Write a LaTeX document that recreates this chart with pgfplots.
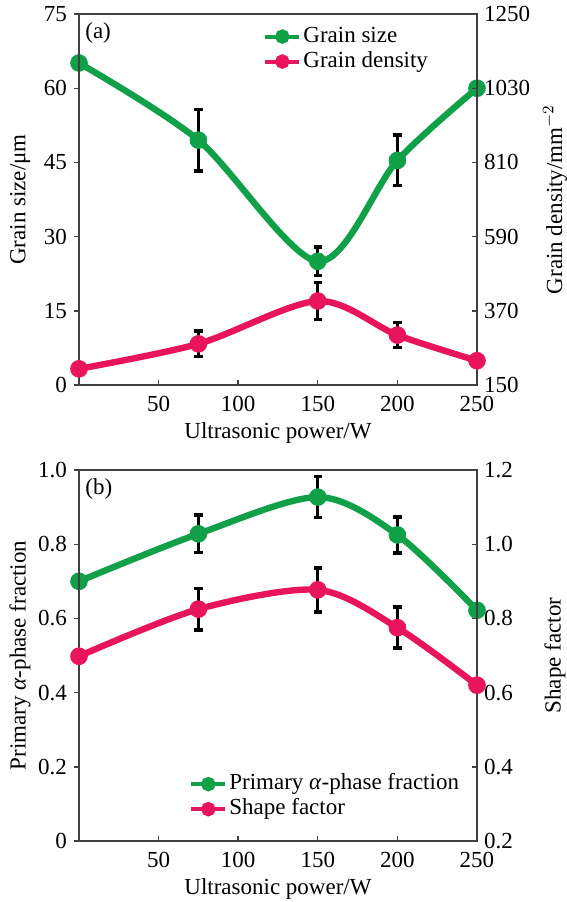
\documentclass[border=0pt]{standalone}
\usepackage{pgfplots}
\pgfplotsset{compat=1.18}
\usepackage{fontspec}
\setmainfont{Liberation Serif}
\definecolor{cgreen}{RGB}{16,160,72}
\definecolor{cpink}{RGB}{232,20,92}
\newcommand{\fs}{\fontsize{11.5}{13}\selectfont}
\pgfplotsset{
  base/.style={scale only axis, width=199pt, height=185.5pt, xmin=0, xmax=250, clip=false,
    axis line style={black!75, line width=0.7pt}, tick style={black!75, line width=0.7pt},
    major tick length=2.5pt,
    tick label style={font=\fs}, label style={font=\fs},
    xticklabel style={yshift=-2pt},
    /pgf/number format/assume math mode=true, /pgf/number format/1000 sep={}},
  errs/.style={error bars/.cd, y dir=both, y explicit,
    error bar style={line width=1.6pt, black, solid},
    error mark options={rotate=90, black, mark size=2.1pt, line width=1.8pt}},
  gline/.style={color=cgreen, line width=3.2pt, smooth, mark=*, mark size=4.2pt,
    mark options={solid, line width=0.4pt, fill=cgreen}, forget plot},
  pline/.style={color=cpink, line width=3.2pt, smooth, mark=*, mark size=4.2pt,
    mark options={solid, line width=0.4pt, fill=cpink}, forget plot},
  leg/.style={legend style={draw=none, fill=none, font=\fs, at={#1}, anchor=north west,
    inner sep=0pt, row sep=0pt, nodes={inner sep=1pt, text height=8pt, text depth=2.5pt}},
    legend cell align=left},
}
\begin{document}
\begin{tikzpicture}
\useasboundingbox (0,0) rectangle (283.5pt,-451pt);
% ---------- panel (a) ----------
\begin{axis}[base, at={(39.5pt,-7pt)}, anchor=north west,
  ymin=0, ymax=75, ytick={0,15,30,45,60,75}, ytick pos=left, xtick=\empty, tick align=outside,
  ylabel={Grain size/μm}, ylabel style={at={(axis description cs:-0.148,0.5)}, anchor=center}]
\addplot[gline, errs] coordinates {
 (0,65.1) +- (0,0)
 (75,49.5) +- (0,6.2)
 (150,25.0) +- (0,2.9)
 (200,45.4) +- (0,5.1)
 (250,60.0) +- (0,0)
};
\node[anchor=west, inner sep=0pt, font=\fs] at (rel axis cs:0.015,0.949) {(a)};
\end{axis}
\begin{axis}[base, at={(39.5pt,-7pt)}, anchor=north west,
  ymin=150, ymax=1250, ytick={150,370,590,810,1030,1250}, ytick pos=right,
  xtick={50,100,150,200,250}, xtick pos=bottom, tick align=inside,
  ylabel={Grain density/mm$^{-2}$}, ylabel style={at={(axis description cs:1.196,0.5)}, anchor=center},
  xlabel={Ultrasonic power/W}, xlabel style={at={(axis description cs:0.5,0)}, anchor=center, yshift=-24pt},
  leg={(rel axis cs:0.462,0.974)}]
\addlegendimage{color=cgreen, line width=2pt, mark=*, mark size=2.6pt, mark options={solid, fill=cgreen}}
\addlegendentry{Grain size}
\addlegendimage{color=cpink, line width=2pt, mark=*, mark size=2.6pt, mark options={solid, fill=cpink}}
\addlegendentry{Grain density}
\addplot[pline, errs] coordinates {
 (0,198) +- (0,0)
 (75,272) +- (0,38)
 (150,399) +- (0,55)
 (200,298) +- (0,37)
 (250,222) +- (0,0)
};
\end{axis}
% ---------- panel (b) ----------
\begin{axis}[base, at={(39.5pt,-235pt)}, anchor=north west,
  ymin=0, ymax=1, ytick={0,0.2,0.4,0.6,0.8,1.0}, yticklabels={0,0.2,0.4,0.6,0.8,1.0},
  ytick pos=left, xtick=\empty, tick align=outside,
  ylabel={Primary \textit{α}-phase fraction}, ylabel style={at={(axis description cs:-0.148,0.5)}, anchor=center}]
\addplot[gline, errs] coordinates {
 (0,0.700) +- (0,0)
 (75,0.828) +- (0,0.050)
 (150,0.927) +- (0,0.055)
 (200,0.825) +- (0,0.049)
 (250,0.622) +- (0,0)
};
\node[anchor=west, inner sep=0pt, font=\fs] at (rel axis cs:0.015,0.949) {(b)};
\end{axis}
\begin{axis}[base, at={(39.5pt,-235pt)}, anchor=north west,
  ymin=0.2, ymax=1.2, ytick={0.2,0.4,0.6,0.8,1.0,1.2}, yticklabels={0.2,0.4,0.6,0.8,1.0,1.2},
  ytick pos=right, xtick={50,100,150,200,250}, xtick pos=bottom, tick align=inside,
  ylabel={Shape factor}, ylabel style={at={(axis description cs:1.196,0.5)}, anchor=center},
  xlabel={Ultrasonic power/W}, xlabel style={at={(axis description cs:0.5,0)}, anchor=center, yshift=-24pt},
  leg={(rel axis cs:0.276,0.188)}]
\addlegendimage{color=cgreen, line width=2pt, mark=*, mark size=2.6pt, mark options={solid, fill=cgreen}}
\addlegendentry{Primary \textit{α}-phase fraction}
\addlegendimage{color=cpink, line width=2pt, mark=*, mark size=2.6pt, mark options={solid, fill=cpink}}
\addlegendentry{Shape factor}
\addplot[pline, errs] coordinates {
 (0,0.698) +- (0,0)
 (75,0.825) +- (0,0.056)
 (150,0.877) +- (0,0.059)
 (200,0.775) +- (0,0.055)
 (250,0.620) +- (0,0)
};
\end{axis}
\end{tikzpicture}
\end{document}
